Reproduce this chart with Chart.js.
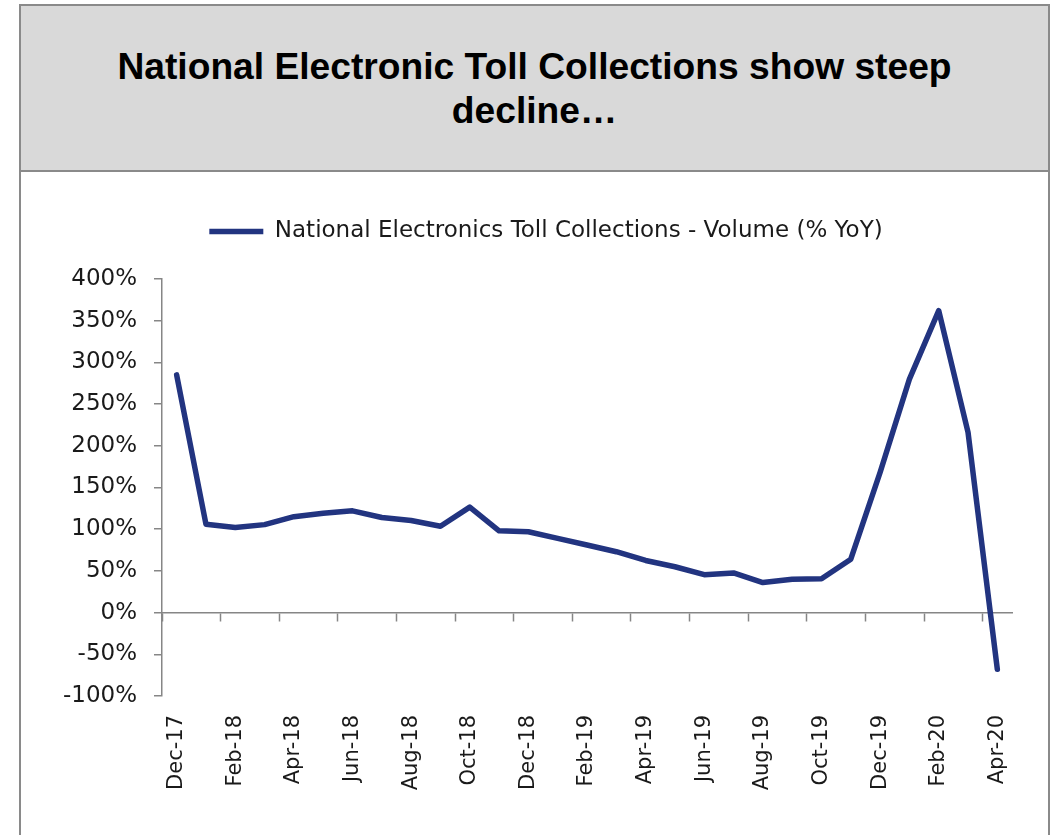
<!DOCTYPE html>
<html>
<head>
<meta charset="utf-8">
<script src="https://cdn.jsdelivr.net/npm/chart.js@4/dist/chart.umd.min.js"></script>
<style>
  html, body { margin: 0; padding: 0; background: #fff; }
  body { width: 1054px; height: 835px; position: relative; overflow: hidden; }
  #head {
    position: absolute; left: 19px; top: 4px; width: 1027px; height: 164px;
    background: #d9d9d9; border: 2px solid #8a8a8a;
    font: bold 37.2px "Liberation Sans", Arial, sans-serif; color: #000;
    text-align: center; line-height: 44px;
  }
  #head div { padding-top: 38px; }
  #panel {
    position: absolute; left: 19px; top: 170px; width: 1027px; height: 700px;
    background: #fff; border: 2px solid #8a8a8a;
  }
  #chart { position: absolute; left: 0; top: 0; z-index: 2; }
</style>
</head>
<body>
<div id="head"><div>National Electronic Toll Collections show steep<br>decline…</div></div>
<div id="panel"></div>
<canvas id="chart" width="1054" height="835"></canvas>
<script>
// monthly series, Dec-17 .. Apr-20
const months = ["Dec-17","Jan-18","Feb-18","Mar-18","Apr-18","May-18","Jun-18","Jul-18","Aug-18","Sep-18","Oct-18","Nov-18",
  "Dec-18","Jan-19","Feb-19","Mar-19","Apr-19","May-19","Jun-19","Jul-19","Aug-19","Sep-19","Oct-19","Nov-19",
  "Dec-19","Jan-20","Feb-20","Mar-20","Apr-20"];
const volumeYoY = [285,106,102,105.5,115,119,122,114,110.5,103.5,126.5,98,
  97,89,81,73,62.5,55,45.5,47.5,36,40,40.5,64,
  168,280,362,216,-68];
const seriesName = "National Electronics Toll Collections - Volume (% YoY)";

const axisGrey = "#868686";
Chart.defaults.font.family = "'DejaVu Sans', 'Noto Sans', sans-serif";
Chart.defaults.font.size = 21;
Chart.defaults.color = "#1a1a1a";

new Chart(document.getElementById("chart"), {
  type: "line",
  data: {
    labels: months,
    datasets: [{
      label: seriesName,
      data: volumeYoY,
      borderColor: "#223480",
      backgroundColor: "#223480",
      borderWidth: 5.5,
      borderCapStyle: "round",
      borderJoinStyle: "round",
      pointRadius: 0,
      tension: 0
    }]
  },
  options: {
    responsive: false,
    animation: false,
    layout: { padding: { left: 40, right: 2, top: 190, bottom: 0 } },
    plugins: {
      tooltip: { enabled: false },
      legend: {
        position: "top",
        labels: { usePointStyle: true, pointStyle: "line", pointStyleWidth: 54, padding: 30,
          color: "#1a1a1a", font: { size: 23 } }
      },
      // empty title used as a gap between legend and plot
      title: { display: true, text: "", position: "top", weight: 500,
        padding: 0, font: { size: 26, lineHeight: 1 } }
    },
    scales: {
      x: {
        type: "category",
        offset: true,
        border: { display: false },
        grid: { display: false, drawTicks: false },
        ticks: {
          autoSkip: false, minRotation: 90, maxRotation: 90, padding: 19,
          callback: (v, i) => i % 2 === 0 ? months[i] : ""
        },
        afterFit: s => { s.height = 139; }
      },
      // zero line with tick marks every second month
      x0: {
        type: "category",
        axis: "x",
        position: { y: 0 },
        labels: months,
        offset: true,
        border: { color: axisGrey, width: 1.5 },
        grid: {
          offset: true, drawOnChartArea: false, tickLength: 8, tickWidth: 1.5,
          tickColor: c => (c.index !== undefined && c.index % 2 === 0) ? axisGrey : "rgba(0,0,0,0)"
        },
        ticks: { display: false }
      },
      y: {
        min: -100, max: 400,
        border: { color: axisGrey, width: 1.5 },
        grid: { drawOnChartArea: false, tickLength: 8, color: axisGrey, lineWidth: 1.5 },
        ticks: { stepSize: 50, padding: 17, font: { size: 23 }, callback: v => v + "%" },
        afterFit: s => { s.width = 122; }
      },
      // blank right margin so the legend sits centred over the panel
      yR: {
        position: "right",
        min: -100, max: 400,
        border: { display: false },
        grid: { display: false },
        ticks: { display: false },
        afterFit: s => { s.width = 40; }
      }
    }
  }
});
</script>
</body>
</html>
